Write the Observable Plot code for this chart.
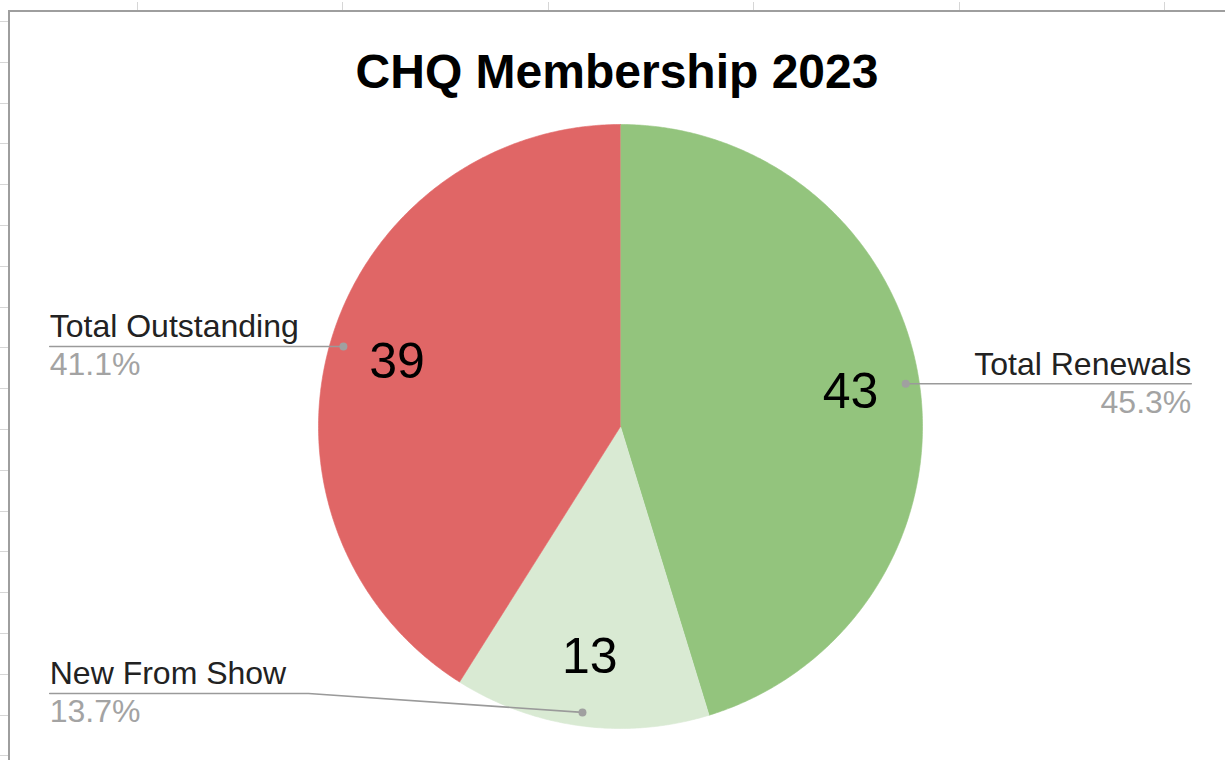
<!DOCTYPE html>
<html>
<head>
<meta charset="utf-8">
<script src="https://cdn.jsdelivr.net/npm/d3@7"></script>
<script src="https://cdn.jsdelivr.net/npm/@observablehq/plot@0.6"></script>
<style>
  html, body { margin: 0; padding: 0; background: #fff; }
  body { width: 1225px; height: 760px; overflow: hidden; position: relative; font-family: "Liberation Sans", Arial, sans-serif; }
  #topticks { position: absolute; left: 0; top: 2px; width: 1225px; height: 8px;
    background: repeating-linear-gradient(90deg, transparent 0 137px, #d6d6d6 137px 138px, transparent 138px 205.4px); }
  #leftticks { position: absolute; left: 0; top: 0; width: 8px; height: 760px;
    background: repeating-linear-gradient(180deg, transparent 0 21px, #d6d6d6 21px 22px, transparent 22px 40.8px); }
  #frame { position: absolute; left: 8px; top: 10px; width: 1217px; height: 750px;
    border-top: 2px solid #9e9e9e; border-left: 2px solid #9e9e9e; box-sizing: border-box; }
  #chart { position: absolute; left: 0; top: 0; }
  #title { position: absolute; left: 9px; width: 1216px; top: 48px; text-align: center;
    font-size: 48px; line-height: 48px; font-weight: bold; color: #000; }
</style>
</head>
<body>
<div id="topticks"></div>
<div id="leftticks"></div>
<div id="frame"></div>
<div id="chart"></div>
<div id="title">CHQ Membership 2023</div>
<script>
// ---- data ----
const categories = ["Total Renewals", "New From Show", "Total Outstanding"];
const counts = [43, 13, 39];
const sliceColors = ["#93c47d", "#d9ead3", "#e06666"];

// ---- layout (unit-circle coordinates) ----
const labelX = 1.89;        // outside label column distance from centre
const dotR = 0.955;         // leader dot radius
const valueR = 0.77;        // in-slice value label radius
const leaderOverrides = {   // bent leader for the bottom label
  "New From Show": {lineY: -0.884, elbowX: -1.033}
};

const data = categories.map((name, i) => ({name, value: counts[i]}));
const total = d3.sum(counts);
const pct = d3.format(".1%");
const arcs = d3.pie().sort(null).value(d => d.value)(data);

const polar = (a, r) => ({x: Math.sin(a) * r, y: Math.cos(a) * r});

// slice outlines
const slicePts = [];
for (const a of arcs) {
  slicePts.push({name: a.data.name, ...polar(0, 0)});
  const n = Math.max(2, Math.ceil((a.endAngle - a.startAngle) / (Math.PI / 360)));
  for (let k = 0; k <= n; k++) {
    const t = a.startAngle + (a.endAngle - a.startAngle) * k / n;
    slicePts.push({name: a.data.name, ...polar(t, 1)});
  }
}

// labels and leaders
const labels = arcs.map(a => {
  const mid = (a.startAngle + a.endAngle) / 2;
  const dot = polar(mid, dotR);
  const val = polar(mid, valueR);
  const side = Math.sin(mid) < 0 ? -1 : 1;
  const ov = leaderOverrides[a.data.name];
  const lineY = ov ? ov.lineY : dot.y;
  return {
    name: a.data.name, value: a.data.value, pct: pct(a.data.value / total),
    side, dot, val, lineY, lx: side * labelX, elbowX: ov ? ov.elbowX : null
  };
});
const leaderPts = [];
for (const l of labels) {
  leaderPts.push({name: l.name, x: l.lx, y: l.lineY});
  if (l.elbowX !== null) leaderPts.push({name: l.name, x: l.elbowX, y: l.lineY});
  leaderPts.push({name: l.name, x: l.dot.x, y: l.dot.y});
}
const left = labels.filter(l => l.side < 0);
const right = labels.filter(l => l.side > 0);

const font = "Liberation Sans, Arial, sans-serif";
const textCommon = {fontSize: 32, lineAnchor: "bottom"};

const chart = Plot.plot({
  width: 1225,
  height: 760,
  margin: 0,
  style: {fontFamily: font, background: "transparent", overflow: "visible"},
  x: {domain: [-1, 1], range: [318, 922], axis: null},
  y: {domain: [-1, 1], range: [728, 124], axis: null},
  color: {domain: categories, range: sliceColors},
  marks: [
    Plot.line(slicePts, {x: "x", y: "y", z: "name", fill: "name", stroke: "name", strokeWidth: 0.6, curve: "linear"}),
    Plot.text(labels, {x: d => d.val.x, y: d => d.val.y, text: d => String(d.value), fontSize: 50, fill: "#000", lineAnchor: "middle"}),
    Plot.line(leaderPts, {x: "x", y: "y", z: "name", stroke: "#9a9a9a", strokeWidth: 1.6, curve: "linear"}),
    Plot.dot(labels, {x: d => d.dot.x, y: d => d.dot.y, r: 4, fill: "#a0a0a0", stroke: null}),
    Plot.text(left, {x: "lx", y: "lineY", text: "name", textAnchor: "start", dy: -9, fill: "#222", ...textCommon}),
    Plot.text(left, {x: "lx", y: "lineY", text: "pct", textAnchor: "start", dy: 29, fill: "#a3a3a3", ...textCommon}),
    Plot.text(right, {x: "lx", y: "lineY", text: "name", textAnchor: "end", dy: -9, fill: "#222", ...textCommon}),
    Plot.text(right, {x: "lx", y: "lineY", text: "pct", textAnchor: "end", dy: 29, fill: "#a3a3a3", ...textCommon})
  ]
});
document.getElementById("chart").appendChild(chart);
</script>
</body>
</html>
